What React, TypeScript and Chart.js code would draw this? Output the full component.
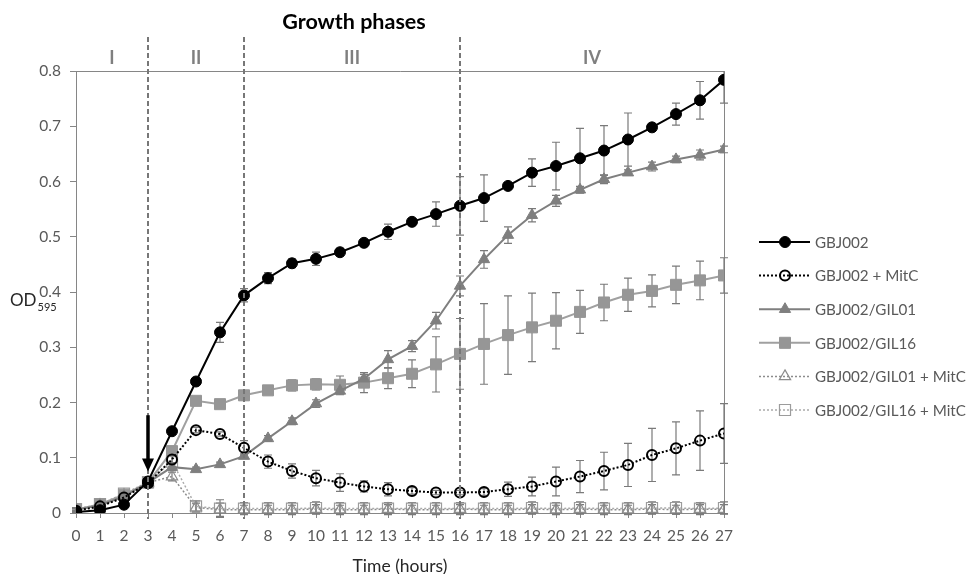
import { useEffect, useRef } from 'react';
import { Chart, registerables } from 'chart.js';

Chart.register(...registerables);

const hours = [0, 1, 2, 3, 4, 5, 6, 7, 8, 9, 10, 11, 12, 13, 14, 15, 16, 17, 18, 19, 20, 21, 22, 23, 24, 25, 26, 27];

const seriesNames = ['GBJ002', 'GBJ002 + MitC', 'GBJ002/GIL01', 'GBJ002/GIL16', 'GBJ002/GIL01 + MitC', 'GBJ002/GIL16 + MitC'];

const gbj002 = [0.002, 0.005, 0.015, 0.057, 0.148, 0.238, 0.327, 0.394, 0.425, 0.452, 0.46, 0.472, 0.489, 0.509, 0.527, 0.541, 0.556, 0.57, 0.592, 0.616, 0.628, 0.642, 0.656, 0.676, 0.698, 0.722, 0.747, 0.784];
const gbj002Err = [0.002, 0.002, 0.003, 0.004, 0.005, 0.006, 0.018, 0.012, 0.01, 0.008, 0.012, 0.007, 0.006, 0.014, 0.006, 0.022, 0.053, 0.042, 0.006, 0.025, 0.043, 0.054, 0.045, 0.048, 0.007, 0.02, 0.034, 0.042];

const gbj002MitC = [0.004, 0.012, 0.028, 0.054, 0.097, 0.15, 0.143, 0.118, 0.093, 0.076, 0.063, 0.055, 0.048, 0.043, 0.04, 0.037, 0.037, 0.038, 0.043, 0.048, 0.057, 0.066, 0.076, 0.087, 0.105, 0.117, 0.131, 0.144];
const gbj002MitCErr = [0.003, 0.003, 0.003, 0.003, 0.006, 0.005, 0.004, 0.013, 0.012, 0.013, 0.014, 0.016, 0.01, 0.012, 0.006, 0.004, 0.004, 0.006, 0.013, 0.017, 0.026, 0.029, 0.034, 0.039, 0.048, 0.048, 0.054, 0.054];

const gil01 = [0.006, 0.014, 0.03, 0.055, 0.083, 0.079, 0.088, 0.103, 0.135, 0.166, 0.198, 0.221, 0.243, 0.278, 0.302, 0.348, 0.411, 0.459, 0.503, 0.539, 0.565, 0.585, 0.604, 0.616, 0.627, 0.64, 0.648, 0.658];
const gil01Err = [0.003, 0.003, 0.003, 0.003, 0.006, 0.004, 0.004, 0.004, 0.005, 0.006, 0.007, 0.007, 0.008, 0.016, 0.01, 0.015, 0.018, 0.016, 0.015, 0.012, 0.01, 0.006, 0.008, 0.005, 0.008, 0.006, 0.009, 0.006];

const gil16 = [0.006, 0.016, 0.033, 0.055, 0.112, 0.203, 0.197, 0.213, 0.222, 0.231, 0.233, 0.232, 0.236, 0.244, 0.252, 0.269, 0.288, 0.306, 0.322, 0.336, 0.348, 0.364, 0.381, 0.395, 0.402, 0.413, 0.421, 0.43];
const gil16Err = [0.003, 0.003, 0.003, 0.003, 0.006, 0.005, 0.004, 0.008, 0.006, 0.01, 0.01, 0.016, 0.018, 0.019, 0.025, 0.05, 0.064, 0.073, 0.071, 0.062, 0.051, 0.039, 0.033, 0.03, 0.029, 0.034, 0.035, 0.032];

const gil01MitC = [0.007, 0.014, 0.032, 0.055, 0.066, 0.01, 0.006, 0.006, 0.006, 0.006, 0.007, 0.006, 0.006, 0.007, 0.006, 0.006, 0.007, 0.006, 0.006, 0.007, 0.006, 0.007, 0.006, 0.006, 0.007, 0.006, 0.007, 0.007];
const gil01MitCErr = [0.003, 0.003, 0.004, 0.003, 0.008, 0.008, 0.012, 0.008, 0.008, 0.008, 0.008, 0.008, 0.008, 0.008, 0.008, 0.008, 0.008, 0.008, 0.008, 0.008, 0.008, 0.008, 0.008, 0.008, 0.008, 0.008, 0.008, 0.008];

const gil16MitC = [0.007, 0.016, 0.035, 0.056, 0.093, 0.012, 0.008, 0.008, 0.008, 0.008, 0.009, 0.008, 0.008, 0.008, 0.008, 0.008, 0.008, 0.008, 0.008, 0.009, 0.008, 0.009, 0.008, 0.008, 0.009, 0.009, 0.008, 0.009];
const gil16MitCErr = [0.003, 0.003, 0.004, 0.003, 0.01, 0.01, 0.016, 0.011, 0.011, 0.011, 0.011, 0.011, 0.011, 0.011, 0.011, 0.011, 0.011, 0.011, 0.011, 0.011, 0.011, 0.011, 0.011, 0.011, 0.011, 0.011, 0.011, 0.011];

const phaseBounds = [3, 7, 16];
const phaseLabels = ['I', 'II', 'III', 'IV'];
const phaseRanges = [[0, 3], [3, 7], [7, 16], [16, 27]];
const arrowHour = 3;
const arrowFrom = 0.177;
const arrowTo = 0.075;

const FONT = 'Lato, "Open Sans", sans-serif';
const AXIS_COLOR = '#868686';
const TICK_COLOR = '#595959';

type Style = 'circle' | 'triangle' | 'rect';

function drawMarker(ctx: CanvasRenderingContext2D, style: Style, x: number, y: number, r: number, fill: string, stroke: string, lw: number) {
  ctx.save();
  ctx.setLineDash([]);
  ctx.beginPath();
  if (style === 'circle') {
    ctx.arc(x, y, r, 0, Math.PI * 2);
  } else if (style === 'triangle') {
    for (let k = 0; k < 3; k++) {
      const a = (k * 2 * Math.PI) / 3;
      const px = x + Math.sin(a) * r;
      const py = y - Math.cos(a) * r;
      if (k === 0) ctx.moveTo(px, py);
      else ctx.lineTo(px, py);
    }
    ctx.closePath();
  } else {
    const s = Math.SQRT1_2 * r;
    ctx.rect(x - s, y - s, 2 * s, 2 * s);
  }
  if (fill && fill !== 'transparent') {
    ctx.fillStyle = fill;
    ctx.fill();
  }
  if (lw > 0) {
    ctx.lineWidth = lw;
    ctx.strokeStyle = stroke;
    ctx.stroke();
  }
  ctx.restore();
}

const overlay = {
  id: 'overlay',
  beforeDatasetsDraw(chart: any) {
    const { ctx, chartArea } = chart;
    const ys = chart.scales.y;
    ctx.save();
    ctx.strokeStyle = AXIS_COLOR;
    ctx.lineWidth = 1;
    ctx.beginPath();
    ctx.moveTo(chartArea.left, chartArea.top + 0.5);
    ctx.lineTo(chartArea.right + 0.5, chartArea.top + 0.5);
    ctx.lineTo(chartArea.right + 0.5, chartArea.bottom);
    ctx.stroke();
    ctx.beginPath();
    ctx.rect(chartArea.left - 6, chartArea.top, chartArea.right - chartArea.left + 12, chartArea.bottom - chartArea.top + 6);
    ctx.clip();
    ctx.strokeStyle = '#7a7a7a';
    ctx.lineWidth = 1.2;
    chart.data.datasets.forEach((ds: any, i: number) => {
      const meta = chart.getDatasetMeta(i);
      ds.errors.forEach((e: number, j: number) => {
        const pt = meta.data[j];
        if (!pt) return;
        const v = ds.data[j].y;
        const y1 = ys.getPixelForValue(v + e);
        const y2 = ys.getPixelForValue(v - e);
        ctx.beginPath();
        ctx.moveTo(pt.x, y1);
        ctx.lineTo(pt.x, y2);
        ctx.moveTo(pt.x - 4, y1);
        ctx.lineTo(pt.x + 4, y1);
        ctx.moveTo(pt.x - 4, y2);
        ctx.lineTo(pt.x + 4, y2);
        ctx.stroke();
      });
    });
    ctx.restore();
  },
  afterDatasetsDraw(chart: any) {
    const { ctx, chartArea } = chart;
    const xs = chart.scales.x;
    const ys = chart.scales.y;
    ctx.save();
    ctx.strokeStyle = '#777777';
    ctx.lineWidth = 2;
    ctx.setLineDash([5, 3]);
    phaseBounds.forEach((h) => {
      const x = Math.round(xs.getPixelForValue(h));
      ctx.beginPath();
      ctx.moveTo(x, chartArea.top - 34);
      ctx.lineTo(x, chartArea.bottom + 6);
      ctx.stroke();
    });
    ctx.setLineDash([]);
    const ax = xs.getPixelForValue(arrowHour);
    const yTop = ys.getPixelForValue(arrowFrom);
    const yTip = ys.getPixelForValue(arrowTo);
    ctx.strokeStyle = '#000';
    ctx.fillStyle = '#000';
    ctx.lineWidth = 3.5;
    ctx.beginPath();
    ctx.moveTo(ax, yTop);
    ctx.lineTo(ax, yTip - 10);
    ctx.stroke();
    ctx.beginPath();
    ctx.moveTo(ax - 6, yTip - 13);
    ctx.lineTo(ax + 6, yTip - 13);
    ctx.lineTo(ax, yTip);
    ctx.closePath();
    ctx.fill();
    ctx.restore();
  },
  afterDraw(chart: any) {
    const { ctx, chartArea } = chart;
    const xs = chart.scales.x;
    ctx.save();
    ctx.fillStyle = '#000';
    ctx.font = `bold 21.5px ${FONT}`;
    ctx.textAlign = 'center';
    ctx.textBaseline = 'middle';
    ctx.fillText('Growth phases', 354, 22);
    ctx.fillStyle = '#7f7f7f';
    ctx.font = `bold 18px ${FONT}`;
    phaseLabels.forEach((lab, i) => {
      const [a, b] = phaseRanges[i];
      const x = xs.getPixelForValue((a + b) / 2);
      ctx.fillText(lab, x, chartArea.top - 13);
    });
    ctx.fillStyle = '#262626';
    ctx.font = `17.5px ${FONT}`;
    ctx.fillText('Time (hours)', (chartArea.left + chartArea.right) / 2, 566);
    ctx.textAlign = 'left';
    ctx.textBaseline = 'alphabetic';
    ctx.font = `17px ${FONT}`;
    ctx.fillText('OD', 10, 306);
    const w = ctx.measureText('OD').width;
    ctx.font = `11px ${FONT}`;
    ctx.fillText('595', 10 + w + 1, 311);
    const rowY0 = 242;
    const rowStep = 33.6;
    chart.data.datasets.forEach((ds: any, i: number) => {
      const y = rowY0 + i * rowStep;
      ctx.save();
      ctx.strokeStyle = ds.borderColor;
      ctx.lineWidth = ds.borderWidth;
      ctx.setLineDash(ds.borderDash || []);
      ctx.beginPath();
      ctx.moveTo(759, y);
      ctx.lineTo(810, y);
      ctx.stroke();
      ctx.restore();
      drawMarker(ctx, ds.pointStyle, 785, y, ds.pointRadius, ds.pointBackgroundColor, ds.pointBorderColor, ds.pointBorderWidth);
      ctx.fillStyle = TICK_COLOR;
      ctx.font = `15.2px ${FONT}`;
      ctx.textAlign = 'left';
      ctx.textBaseline = 'middle';
      ctx.fillText(ds.label, 815, y + 1);
    });
    ctx.restore();
  },
};

function pts(vals: number[]) {
  return hours.map((h, i) => ({ x: h, y: vals[i] }));
}

export default function App() {
  const ref = useRef<HTMLCanvasElement>(null);
  useEffect(() => {
    document.body.style.margin = '0';
    const mk = (label: string, vals: number[], errs: number[], color: string, dash: number[], width: number, style: Style, r: number, fill: string, bcol: string, bw: number) => ({
      label,
      data: pts(vals),
      errors: errs,
      borderColor: color,
      borderWidth: width,
      borderDash: dash,
      pointStyle: style,
      pointRadius: r,
      pointHoverRadius: r,
      pointBackgroundColor: fill,
      pointBorderColor: bcol,
      pointBorderWidth: bw,
      tension: 0,
      fill: false,
    });
    const datasets: any[] = [
      mk(seriesNames[0], gbj002, gbj002Err, '#000000', [], 2, 'circle', 5.5, '#000000', '#000000', 1),
      mk(seriesNames[1], gbj002MitC, gbj002MitCErr, '#000000', [2, 2], 2, 'circle', 5, 'transparent', '#000000', 2),
      mk(seriesNames[2], gil01, gil01Err, '#7f7f7f', [], 2, 'triangle', 6.5, '#7f7f7f', '#7f7f7f', 1),
      mk(seriesNames[3], gil16, gil16Err, '#a0a0a0', [], 2, 'rect', 7.8, '#969696', '#969696', 1),
      mk(seriesNames[4], gil01MitC, gil01MitCErr, '#8c8c8c', [2, 2], 1.5, 'triangle', 6.5, 'transparent', '#8c8c8c', 1.2),
      mk(seriesNames[5], gil16MitC, gil16MitCErr, '#ababab', [2, 2], 1.5, 'rect', 7.8, 'transparent', '#9c9c9c', 1.2),
    ];
    const chart = new Chart(ref.current as HTMLCanvasElement, {
      type: 'line',
      data: { datasets },
      options: {
        animation: false,
        responsive: false,
        events: [],
        layout: { padding: { left: 0, top: 71, right: 247, bottom: 0 } },
        plugins: { legend: { display: false }, title: { display: false }, tooltip: { enabled: false } },
        scales: {
          x: {
            type: 'linear',
            min: 0,
            max: 27,
            afterFit: (s: any) => { s.height = 61; },
            border: { display: true, color: AXIS_COLOR, width: 1 },
            grid: { drawOnChartArea: false, drawTicks: true, tickLength: 5, tickColor: AXIS_COLOR },
            ticks: {
              stepSize: 1,
              autoSkip: false,
              maxRotation: 0,
              padding: 9,
              color: TICK_COLOR,
              font: { family: FONT, size: 15.5 },
              callback: (v: any) => String(v),
            },
          },
          y: {
            type: 'linear',
            min: 0,
            max: 0.8,
            afterFit: (s: any) => { s.width = 76; },
            border: { display: true, color: AXIS_COLOR, width: 1 },
            grid: { drawOnChartArea: false, drawTicks: true, tickLength: 6, tickColor: AXIS_COLOR },
            ticks: {
              stepSize: 0.1,
              padding: 9,
              color: TICK_COLOR,
              font: { family: FONT, size: 15.5 },
              callback: (v: any) => String(Math.round(v * 10) / 10),
            },
          },
        },
      } as any,
      plugins: [overlay],
    });
    return () => chart.destroy();
  }, []);
  return (
    <div style={{ width: 971, height: 574 }}>
      <canvas ref={ref} width={971} height={574} style={{ display: 'block' }} />
    </div>
  );
}
